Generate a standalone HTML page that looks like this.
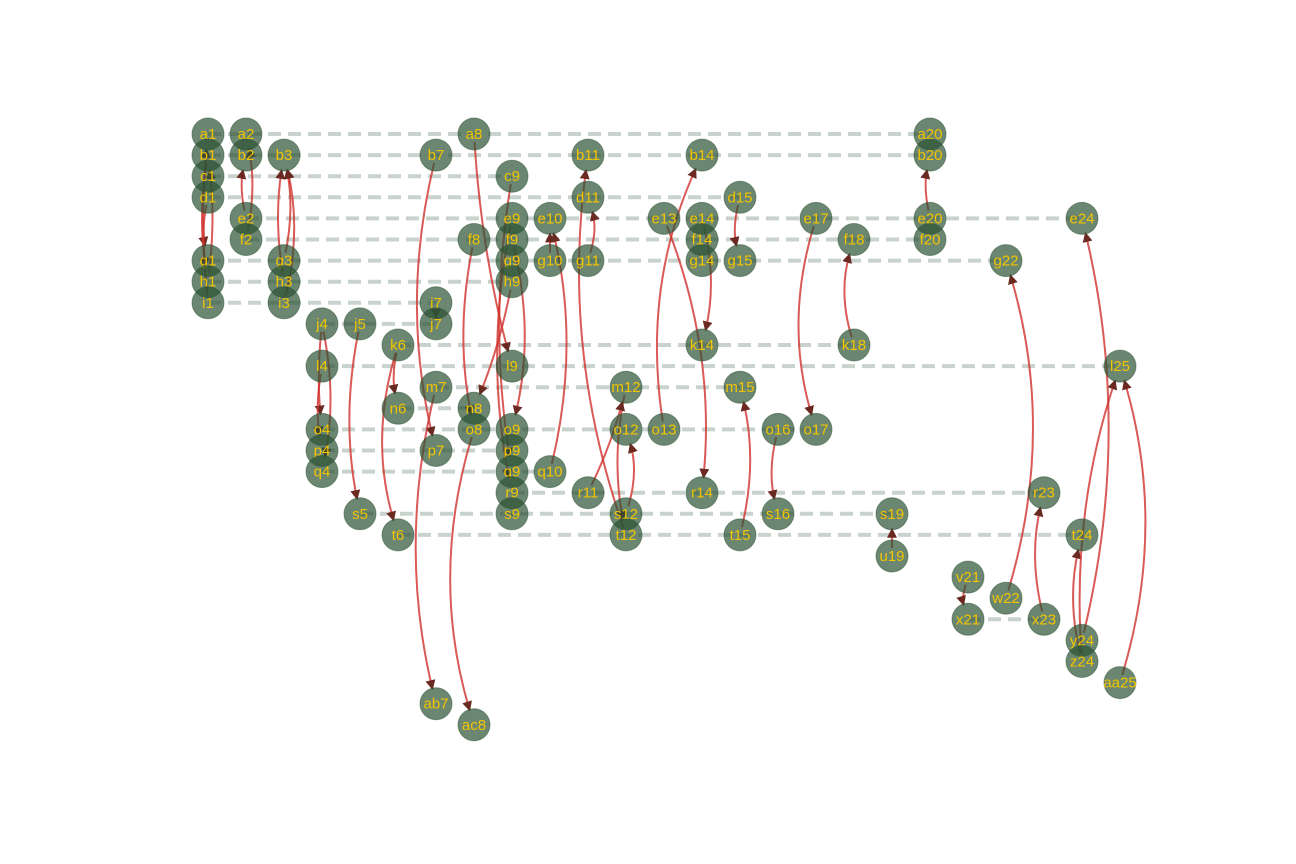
<!DOCTYPE html>
<html><head><meta charset="utf-8"><style>
html,body{margin:0;padding:0;background:#fff;}
svg{display:block;font-family:"Liberation Sans","DejaVu Sans",sans-serif;}
</style></head><body>
<svg id="chart" width="1296" height="864" viewBox="0 0 1296 864">
<defs><marker id="arr" viewBox="0 0 10 10" refX="9" refY="5" markerWidth="5" markerHeight="5" orient="auto"><path d="M0,0 L10,5 L0,10 z" fill="#6a2a22"/></marker></defs>
<g id="dashes"></g><g id="edges"></g><g id="nodes"></g>
</svg>
<script>
const nodeNames = ["a1","a2","a8","a20","b1","b2","b3","b7","b11","b14","b20","c1","c9","d1","d11","d15",
"e2","e9","e10","e13","e14","e17","e20","e24","f2","f8","f9","f14","f18","f20",
"g1","g3","g9","g10","g11","g14","g15","g22","h1","h3","h9","i1","i3","i7",
"j4","j5","j7","k6","k14","k18","l4","l9","l25","m7","m12","m15","n6","n8",
"o4","o8","o9","o12","o13","o16","o17","p4","p7","p9","q4","q9","q10",
"r9","r11","r14","r23","s5","s9","s12","s16","s19","t6","t12","t15","t24",
"u19","v21","w22","x21","x23","y24","z24","aa25","ab7","ac8"];
const edgeFrom = ["d1","b1","i1","h1","f2","e2","g3","h3","i3","j7","j4","j4","l4","j5","k6","k6","b7","m7","o8","f8","a8","c9","h9","e9","f9","g10","q10","g11","t12","m12","r11","s12","o13","e13","e14","d15","t15","o16","e17","k18","u19","e20","w22","x23","y24","z24","z24","aa25","v21"];
const edgeTo =   ["g1","h1","a1","b1","a2","b2","b3","b3","b3","i7","o4","q4","p4","s5","n6","t6","p7","ab7","ac8","o8","l9","q9","n8","r9","o9","e10","e10","d11","b11","t12","m12","o12","b14","r14","k14","g15","m15","s16","o17","f18","s19","b20","g22","r23","e24","t24","l25","l25","x21"];
const edgeBend = [0.1,0.08,-0.05,0.06,0.1,-0.1,0.1,-0.08,0.12,0,0.05,-0.1,0.08,0.1,0.1,0.15,0.12,0.12,0.15,0.1,0.05,0.08,-0.05,0.1,-0.12,0,0.12,0.15,-0.12,0.1,0.05,0.15,-0.15,-0.12,-0.12,0.12,0.12,0.12,0.15,-0.15,0,-0.1,0.15,-0.12,0.12,-0.12,-0.1,0.15,0.15];
const rowLetters = ["a","b","c","d","e","f","g","h","i","j","k","l","m","n","o","p","q","r","s","t","u","v","w","x","y","z","aa","ab","ac"];
const NS="http://www.w3.org/2000/svg";
function xScale(c){return 208+(c-1)*38;}
function yScale(r){return 134+r*21.1;}
function pos(n){const m=n.match(/^([a-z]+)(\d+)$/);return [xScale(+m[2]),yScale(rowLetters.indexOf(m[1]))];}
const dG=document.getElementById('dashes'),eG=document.getElementById('edges'),nG=document.getElementById('nodes');
const rows={};
nodeNames.forEach(n=>{const m=n.match(/^([a-z]+)(\d+)$/);(rows[m[1]]=rows[m[1]]||[]).push(+m[2]);});
Object.keys(rows).forEach(r=>{const cs=rows[r];if(cs.length<2)return;
 const y=yScale(rowLetters.indexOf(r));
 const l=document.createElementNS(NS,'line');
 l.setAttribute('x1',xScale(Math.min(...cs)));l.setAttribute('x2',xScale(Math.max(...cs)));
 l.setAttribute('y1',y);l.setAttribute('y2',y);
 l.setAttribute('stroke','#c9d3cd');l.setAttribute('stroke-width','4');l.setAttribute('stroke-dasharray','13 7');
 
 
 dG.appendChild(l);});
edgeFrom.forEach((f,i)=>{
 const [x1,y1]=pos(f),[x2,y2]=pos(edgeTo[i]);
 const dx=x2-x1,dy=y2-y1;
 const b=edgeBend[i];
 const cx=(x1+x2)/2-dy*b,cy=(y1+y2)/2+dx*b;
 let ex=x2-cx,ey=y2-cy,el=Math.hypot(ex,ey)||1;
 const tx=x2-ex/el*15,ty=y2-ey/el*15;
 let sx=cx-x1,sy=cy-y1,sl=Math.hypot(sx,sy)||1;
 const fx=x1+sx/sl*8,fy=y1+sy/sl*8;
 const p=document.createElementNS(NS,'path');
 p.setAttribute('d',`M${fx},${fy} Q${cx},${cy} ${tx},${ty}`);
 p.setAttribute('fill','none');p.setAttribute('stroke','#d0312d');p.setAttribute('stroke-opacity','0.8');
 p.setAttribute('stroke-width','2');p.setAttribute('marker-end','url(#arr)');
 
 
 eG.appendChild(p);});
nodeNames.forEach(n=>{const [x,y]=pos(n);
 const g=document.createElementNS(NS,'g');
 
 
 const c=document.createElementNS(NS,'circle');
 c.setAttribute('cx',x);c.setAttribute('cy',y);c.setAttribute('r','16');
 c.setAttribute('fill','#2c5234');c.setAttribute('fill-opacity','0.7');c.setAttribute('stroke','#2c5234');c.setAttribute('stroke-opacity','0.5');
 g.appendChild(c);
 const t=document.createElementNS(NS,'text');
 t.setAttribute('x',x);t.setAttribute('y',y+5);t.setAttribute('text-anchor','middle');
 t.setAttribute('font-size','15');t.setAttribute('fill','#f2c500');t.textContent=n;
 g.appendChild(t);
 nG.appendChild(g);});
</script>
</body></html>
